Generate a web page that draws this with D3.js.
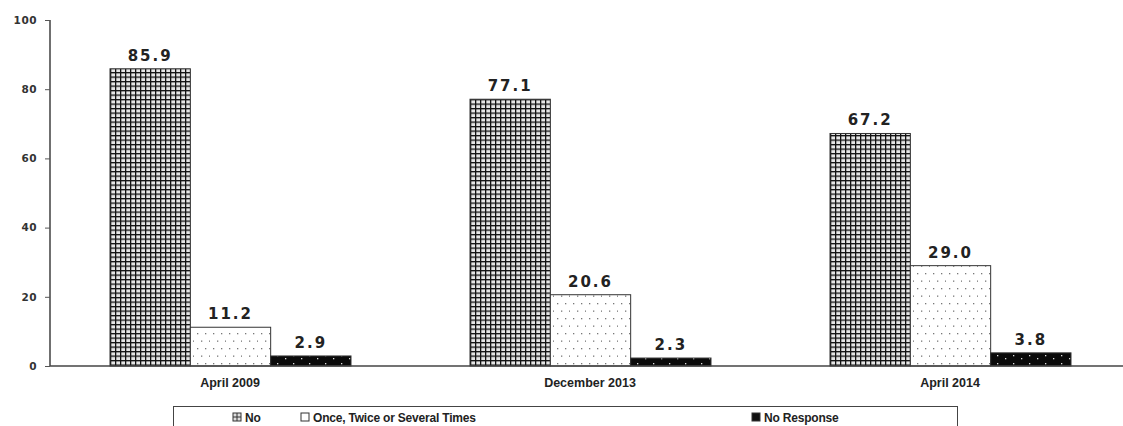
<!DOCTYPE html>
<html>
<head>
<meta charset="utf-8">
<script src="https://cdn.jsdelivr.net/npm/d3@7"></script>
<style>
  html, body { margin: 0; padding: 0; background: #fff; }
  svg { display: block; }
</style>
</head>
<body>
<svg id="chart" width="1123" height="426"></svg>
<script>
// Survey waves and responses (percent)
const categories = ["April 2009", "December 2013", "April 2014"];
const seriesNames = ["No", "Once, Twice or Several Times", "No Response"];
const noValues = [85.9, 77.1, 67.2];
const onceValues = [11.2, 20.6, 29.0];
const noResponseValues = [2.9, 2.3, 3.8];
const yTicks = [0, 20, 40, 60, 80, 100];

const seriesValues = [noValues, onceValues, noResponseValues];
const rows = categories.map((c, i) => ({
  category: c,
  values: seriesNames.map((s, j) => ({ series: s, value: seriesValues[j][i] }))
}));

const svg = d3.select("#chart");
const defs = svg.append("defs");

// Fill patterns: crosshatch grid, light dots, dark with white dots
const grid = defs.append("pattern").attr("id", "pat-grid")
  .attr("patternUnits", "userSpaceOnUse").attr("width", 5).attr("height", 4.5);
grid.append("rect").attr("width", 5).attr("height", 4.5).attr("fill", "#e6e6e6");
grid.append("rect").attr("x", 0).attr("y", 0).attr("width", 1.3).attr("height", 4.5).attr("fill", "#111");
grid.append("rect").attr("x", 0).attr("y", 0).attr("width", 5).attr("height", 1.3).attr("fill", "#111");

const dots = defs.append("pattern").attr("id", "pat-dots")
  .attr("patternUnits", "userSpaceOnUse").attr("width", 16).attr("height", 15);
dots.append("rect").attr("width", 16).attr("height", 15).attr("fill", "#fff");
[[3, 3], [11, 3], [7, 10.5], [15, 10.5]].forEach(([x, y]) =>
  dots.append("rect").attr("x", x).attr("y", y).attr("width", 1.3).attr("height", 1.3).attr("fill", "#777"));

const dark = defs.append("pattern").attr("id", "pat-dark")
  .attr("patternUnits", "userSpaceOnUse").attr("width", 16).attr("height", 8);
dark.append("rect").attr("width", 16).attr("height", 8).attr("fill", "#0a0a0a");
[[3, 3], [11, 6]].forEach(([x, y]) =>
  dark.append("rect").attr("x", x).attr("y", y).attr("width", 1.3).attr("height", 1.3).attr("fill", "#ddd"));

const fills = { "No": "url(#pat-grid)", "Once, Twice or Several Times": "url(#pat-dots)", "No Response": "url(#pat-dark)" };

const x0 = d3.scaleBand().domain(categories).range([50, 1130]).paddingInner(0).paddingOuter(0);
const x1 = d3.scaleBand().domain(seriesNames).range([60, 301]).padding(0);
const y = d3.scaleLinear().domain([0, 100]).range([366, 20]);

// Y axis
const yAxis = svg.append("g").attr("transform", "translate(50,0)")
  .call(d3.axisLeft(y).tickValues(yTicks).tickSize(5).tickPadding(8).tickFormat(d3.format("d")));
yAxis.select(".domain").attr("stroke", "#222").attr("stroke-width", 1.3).attr("d", `M0,${y(100)}V${y(0)}`);
yAxis.selectAll(".tick line").attr("stroke", "#555");
yAxis.selectAll(".tick text")
  .attr("font-family", "'DejaVu Sans', Verdana, sans-serif").attr("font-size", 10.5).attr("font-weight", "bold")
  .attr("letter-spacing", 0.5)
  .attr("fill", "#333");

// Bars
const groups = svg.append("g").selectAll("g").data(rows).join("g")
  .attr("transform", d => `translate(${x0(d.category)},0)`);

groups.selectAll("rect").data(d => d.values).join("rect")
  .attr("x", d => x1(d.series))
  .attr("y", d => y(d.value))
  .attr("width", x1.bandwidth())
  .attr("height", d => y(0) - y(d.value))
  .attr("fill", d => fills[d.series])
  .attr("stroke", "#333")
  .attr("stroke-width", 1);

groups.selectAll("text.val").data(d => d.values).join("text")
  .attr("class", "val")
  .attr("x", d => x1(d.series) + x1.bandwidth() / 2)
  .attr("y", d => y(d.value) - 8)
  .attr("text-anchor", "middle")
  .attr("font-family", "'DejaVu Sans', Verdana, sans-serif")
  .attr("font-size", 15).attr("font-weight", "bold")
  .attr("letter-spacing", 2)
  .attr("fill", "#222")
  .text(d => d.value.toFixed(1));

// X axis baseline and category labels
const xAxis = svg.append("g").attr("transform", `translate(0,${y(0)})`)
  .call(d3.axisBottom(x0).tickSize(0).tickPadding(12));
xAxis.select(".domain").attr("stroke", "#444").attr("stroke-width", 1.3).attr("d", `M50,0H1123`);
xAxis.selectAll(".tick text")
  .attr("font-family", "'Liberation Sans', Arial, sans-serif").attr("font-size", 12.5).attr("font-weight", "bold")
  .attr("fill", "#222");

// Legend
const legend = svg.append("g");
legend.append("rect").attr("x", 173.5).attr("y", 406.5).attr("width", 784).attr("height", 30)
  .attr("fill", "#fff").attr("stroke", "#444").attr("stroke-width", 1);
const legendX = [233, 301, 752];
const legendItems = legend.selectAll("g").data(seriesNames).join("g")
  .attr("transform", (d, i) => `translate(${legendX[i]},417)`);
legendItems.append("rect").attr("x", 0).attr("y", -4).attr("width", 8).attr("height", 8)
  .attr("fill", d => d === "No" ? "#ddd" : d === "No Response" ? "#111" : "#fff")
  .attr("stroke", "#333").attr("stroke-width", 1);
legendItems.filter(d => d === "No").append("path")
  .attr("d", "M0,0H8M4,-4V4").attr("stroke", "#333").attr("stroke-width", 1);
legendItems.append("text").attr("x", 12).attr("y", 4.5)
  .attr("font-family", "'Liberation Sans', Arial, sans-serif").attr("font-size", 12).attr("font-weight", "bold")
  .attr("letter-spacing", -0.2)
  .attr("fill", "#222")
  .text(d => d);
</script>
</body>
</html>
